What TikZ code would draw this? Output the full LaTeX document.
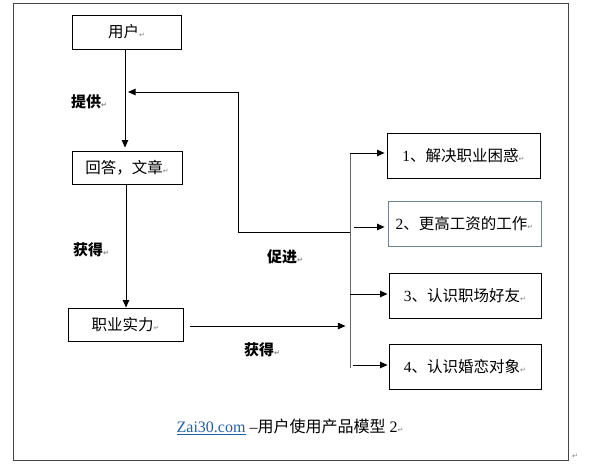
\documentclass[tikz,border=0pt]{standalone}
\usepackage{fontspec}
\setmainfont{Liberation Serif}
\newfontfamily\cjk{Noto Sans CJK SC}
\newfontfamily\symfont{DejaVu Sans}
\usetikzlibrary{arrows.meta}
\definecolor{linkblue}{HTML}{1F5FAF}
\definecolor{boxtwo}{HTML}{6F8397}
\definecolor{frame}{HTML}{444444}
\newcommand\pmark{{\symfont\fontsize{7}{8}\selectfont\color{gray}↵}}
\newcommand\lat[1]{{\rmfamily #1}}
\begin{document}
\begin{tikzpicture}[x=1pt,y=-1pt,
  box/.style={draw, line width=0.9pt, inner sep=0pt, font=\cjk\fontsize{15.5}{17}\selectfont},
  lbl/.style={inner sep=0pt, font=\cjk\bfseries\fontsize{15}{17}\selectfont},
  arr/.style={line width=0.9pt, -{Triangle[length=7.5pt,width=6.5pt]}},
  ln/.style={line width=0.9pt}]
\useasboundingbox (0,0) rectangle (589,465);
\draw[line width=0.9pt, frame] (13,3) rectangle (568,460);
\node[inner sep=0pt] (endmark) at (575,456) {\pmark};

% left column
\node[box, minimum width=109, minimum height=34] (user) at (126.5,32) {用户\pmark};
\node[box, minimum width=110, minimum height=33] (answer) at (127,167.5) {回答，文章\pmark};
\node[box, minimum width=115, minimum height=33] (skill) at (125.5,324.5) {职业实力\pmark};

% right column
\node[box, minimum width=153, minimum height=45] (b1) at (463.5,155.5) {\lat{1}、解决职业困惑\pmark};
\node[box, draw=boxtwo, minimum width=153, minimum height=45] (b2) at (464.5,223.5) {\lat{2}、更高工资的工作\pmark};
\node[box, minimum width=152, minimum height=45] (b3) at (465,295.5) {\lat{3}、认识职场好友\pmark};
\node[box, minimum width=152, minimum height=45] (b4) at (465,366.5) {\lat{4}、认识婚恋对象\pmark};

% labels
\node[lbl] (l1) at (89,102) {提供\pmark};
\node[lbl] (l2) at (91,250) {获得\pmark};
\node[lbl] (l3) at (285,257) {促进\pmark};
\node[lbl] (l4) at (262,350) {获得\pmark};

% caption
\node[inner sep=0pt, font=\fontsize{16}{18}\selectfont] (cap) at (290,427)
  {{\color{linkblue}\underline{Zai30.com}} –{\cjk 用户使用产品模型}~2\pmark};

% vertical flow
\draw[arr, shorten >=3pt] ([xshift=-1.5pt]user.south) -- ([xshift=-1.5pt]user.south |- answer.north);
\draw[arr] ([xshift=-1pt]answer.south) -- ([xshift=-1pt]answer.south |- skill.north);

% bus
\coordinate (bt) at (350,153);
\coordinate (bb) at (350,368);
\coordinate (s2) at (354,227);
\coordinate (s3) at (350,294);
\coordinate (s4) at (353,365);
\draw[ln, black!60] (bt) -- (bb);
\draw[arr, shorten >=2pt] (bt) -- (bt -| b1.west);
\draw[arr, shorten >=3pt] (s2) -- (s2 -| b2.west);
\draw[arr, shorten >=1pt] (s3) -- (s3 -| b3.west);
\draw[arr, shorten >=1pt] (s4) -- (s4 -| b4.west);

% skill to bus
\draw[arr] ([xshift=7pt,yshift=-1.5pt]skill.east) -- ([xshift=162pt,yshift=-1.5pt]skill.east);

% feedback
\coordinate (fb0) at (350,232);
\coordinate (fb1) at (238,232);
\coordinate (fb2) at (238,92);
\coordinate (fbtip) at (128,92);
\draw[arr] (fb0) -- (fb1) -- (fb2) -- (fbtip);
\end{tikzpicture}
\end{document}
